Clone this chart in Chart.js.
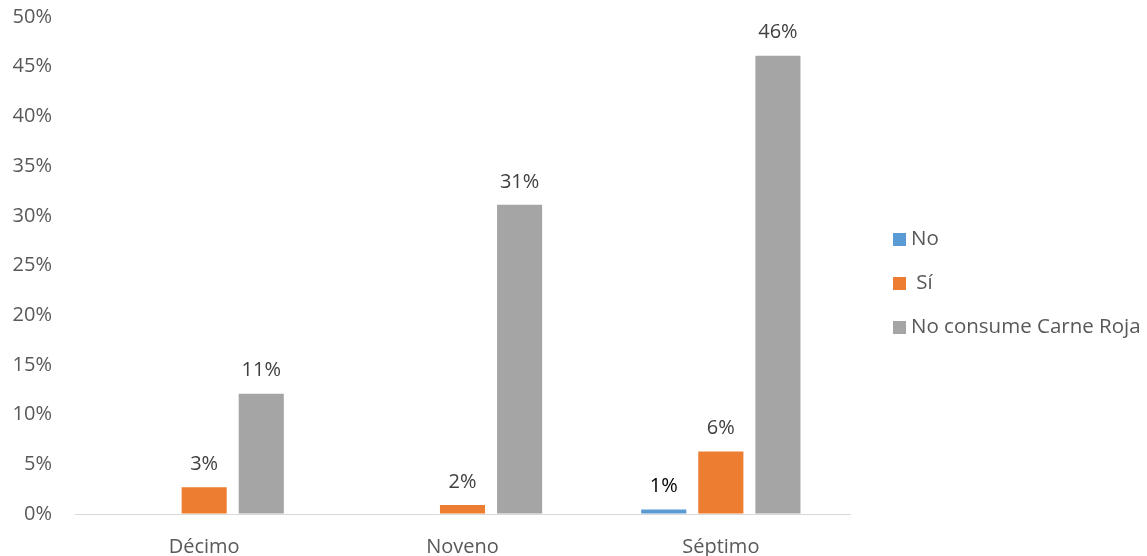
<!DOCTYPE html>
<html lang="es">
<head>
  <meta charset="UTF-8">
  <title>Consumo de carne roja</title>
  <script src="https://cdn.jsdelivr.net/npm/chart.js@4.4.2/dist/chart.umd.min.js"></script>
  <style>
    body { margin: 0; background: #fff; }
    .ch { width: 1147px; height: 556px; }
  </style>
</head>
<body>
  <div class="ch">
    <canvas id="myChart" width="1147" height="556"></canvas>
  </div>
  <script>
    const grados = ['Décimo', 'Noveno', 'Séptimo'];
    const serieNombres = ['No', ' Sí', 'No consume Carne Roja'];
    const serieColores = ['#5B9BD5', '#ED7D31', '#A5A5A5'];
    const valoresNo = [0, 0, 0.45];
    const valoresSi = [2.7, 0.9, 6.3];
    const valoresNoConsume = [12.1, 31.1, 46.1];
    const etiquetasNo = ['', '', '1%'];
    const etiquetasSi = ['3%', '2%', '6%'];
    const etiquetasNoConsume = ['11%', '31%', '46%'];
    const ticksY = [0, 5, 10, 15, 20, 25, 30, 35, 40, 45, 50];

    const fuente = '"Open Sans", "Liberation Sans", sans-serif';

    // etiquetas encima de cada barra
    const etiquetas = {
      id: 'etiquetas',
      afterDatasetsDraw(chart) {
        const ctx = chart.ctx;
        const listas = [etiquetasNo, etiquetasSi, etiquetasNoConsume];
        ctx.save();
        ctx.font = '20px ' + fuente;
        ctx.textAlign = 'center';
        ctx.textBaseline = 'bottom';
        chart.data.datasets.forEach((ds, i) => {
          chart.getDatasetMeta(i).data.forEach((bar, j) => {
            const txt = listas[i][j];
            if (!txt) return;
            ctx.fillStyle = i === 0 ? '#000000' : '#404040';
            ctx.fillText(txt, bar.x, bar.y - 13);
          });
        });
        ctx.restore();
      }
    };

    // leyenda a la derecha
    const leyenda = {
      id: 'leyenda',
      afterDraw(chart) {
        const ctx = chart.ctx;
        const x = 893, y0 = 239, paso = 44;
        ctx.save();
        ctx.font = '20.5px ' + fuente;
        ctx.textBaseline = 'middle';
        ctx.textAlign = 'left';
        chart.data.datasets.forEach((ds, i) => {
          const y = y0 + i * paso;
          ctx.fillStyle = ds.backgroundColor;
          ctx.fillRect(x, y - 6, 13, 13);
          ctx.fillStyle = '#595959';
          ctx.fillText(ds.label, x + 18, y);
        });
        ctx.restore();
      }
    };

    const ctx = document.getElementById('myChart').getContext('2d');
    const myChart = new Chart(ctx, {
      type: 'bar',
      data: {
        labels: grados,
        datasets: [
          { label: serieNombres[0], data: valoresNo, backgroundColor: serieColores[0] },
          { label: serieNombres[1], data: valoresSi, backgroundColor: serieColores[1] },
          { label: serieNombres[2], data: valoresNoConsume, backgroundColor: serieColores[2] }
        ]
      },
      options: {
        responsive: false,
        animation: false,
        categoryPercentage: 0.663,
        barPercentage: 0.79,
        layout: { padding: { top: 17, right: 297, left: 0, bottom: 0 } },
        plugins: {
          legend: { display: false },
          tooltip: { enabled: false }
        },
        scales: {
          x: {
            grid: { display: false },
            border: { display: true, color: '#D9D9D9', width: 1 },
            ticks: { color: '#595959', font: { family: fuente, size: 20 }, padding: 13 },
            afterFit(scale) { scale.height = 42; }
          },
          y: {
            min: 0,
            max: 50,
            grid: {
              display: true,
              drawOnChartArea: false,
              drawTicks: true,
              tickLength: 23,
              color: 'rgba(0,0,0,0)'
            },
            border: { display: false },
            afterBuildTicks(scale) { scale.ticks = ticksY.map(v => ({ value: v })); },
            ticks: {
              color: '#595959',
              font: { family: fuente, size: 20 },
              padding: 0,
              callback: v => v + '%'
            },
            afterFit(scale) { scale.width = 75; }
          }
        }
      },
      plugins: [etiquetas, leyenda]
    });
  </script>
</body>
</html>
